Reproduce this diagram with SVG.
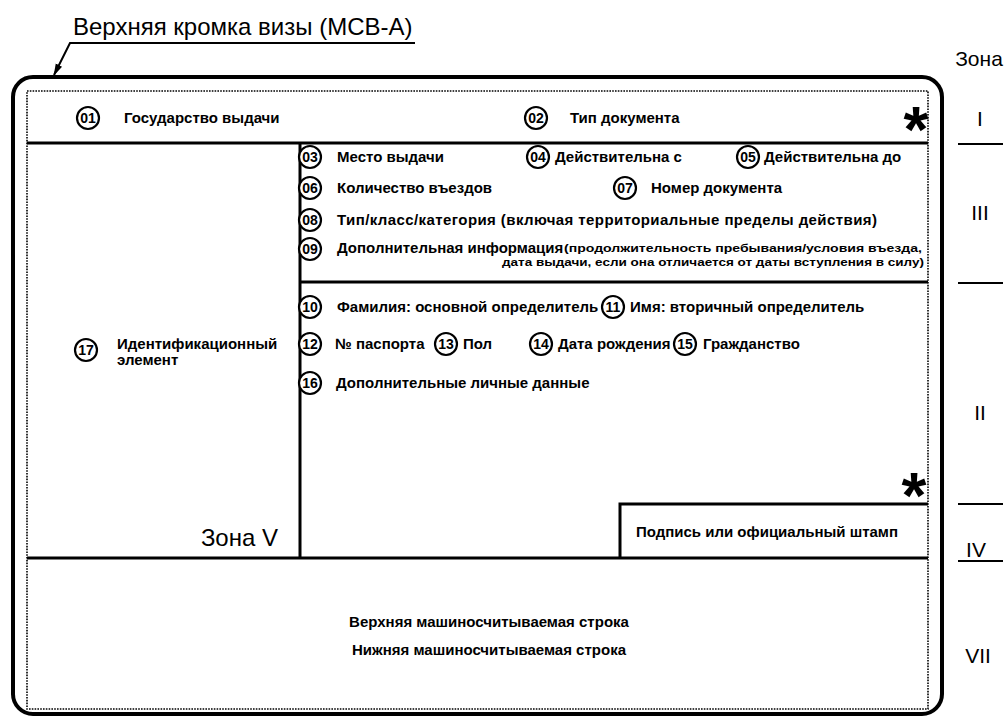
<svg xmlns="http://www.w3.org/2000/svg" width="1008" height="721" viewBox="0 0 1008 721">
<style>
.t{font-family:"Liberation Sans",Arial,sans-serif;font-weight:bold;font-size:15px;fill:#000}
.s{font-family:"Liberation Sans",Arial,sans-serif;font-weight:bold;font-size:11px;fill:#000}
.n{font-family:"Liberation Sans",Arial,sans-serif;font-weight:bold;font-size:14px;fill:#000;text-anchor:middle}
.big{font-family:"Liberation Sans",Arial,sans-serif;font-size:24px;fill:#000}
.z{font-family:"Liberation Sans",Arial,sans-serif;font-size:21px;fill:#000;text-anchor:middle}
.c{fill:#fff;stroke:#000;stroke-width:2.2}
.thick{fill:none;stroke:#000;stroke-width:3}
.thin{fill:none;stroke:#000;stroke-width:2}
.dot{fill:none;stroke:#000;stroke-width:1.6;stroke-dasharray:1.6 1.2}
.star{font-family:"Liberation Sans",Arial,sans-serif;font-weight:bold;font-size:64px;fill:#000;text-anchor:middle}
</style>
<defs>
<marker id="ah" markerWidth="12" markerHeight="10" refX="11" refY="5" orient="auto" markerUnits="userSpaceOnUse">
<path d="M0,1.5 L12,5 L0,8.5 Z" fill="#000"/>
</marker>
</defs>

<g id="title">
<text class="big" x="73" y="35">Верхняя кромка визы (МСВ-А)</text>
</g>
<g id="zone-head"><text class="z" x="979" y="66">Зона</text></g>

<g id="frame">
<rect x="13" y="77" width="929" height="637" rx="20" ry="20" fill="none" stroke="#000" stroke-width="4"/>
<rect x="27" y="91" width="901" height="618" class="dot"/>
</g>

<g id="connectors">
<polyline points="415,43 70,43 54,75" fill="none" stroke="#000" stroke-width="2" marker-end="url(#ah)"/>
<line x1="27" y1="143" x2="928" y2="143" class="thick"/>
<line x1="300" y1="143" x2="300" y2="558" class="thick"/>
<line x1="300" y1="282" x2="928" y2="282" class="thick"/>
<line x1="27" y1="558" x2="928" y2="558" class="thick"/>
<line x1="958" y1="144" x2="1003" y2="144" class="thin"/>
<line x1="958" y1="283" x2="1003" y2="283" class="thin"/>
<line x1="958" y1="504" x2="1003" y2="504" class="thin"/>
<line x1="958" y1="561" x2="1003" y2="561" class="thin"/>
</g>

<g id="zones">
<text class="z" x="980" y="126">I</text>
<text class="z" x="980" y="220">III</text>
<text class="z" x="980" y="420">II</text>
<text class="z" x="976" y="557">IV</text>
<text class="z" x="978" y="663">VII</text>
</g>

<g id="n01"><circle class="c" cx="88" cy="118" r="11"/><text class="n" x="88" y="123">01</text><text class="t" x="124" y="123">Государство выдачи</text></g>
<g id="n02"><circle class="c" cx="536" cy="118" r="11"/><text class="n" x="536" y="123">02</text><text class="t" x="570" y="123">Тип документа</text></g>
<g id="star1"><text class="star" x="916" y="152">*</text></g>

<g id="n03"><circle class="c" cx="310" cy="157" r="11"/><text class="n" x="310" y="162">03</text><text class="t" x="337" y="162">Место выдачи</text></g>
<g id="n04"><circle class="c" cx="538" cy="157" r="11"/><text class="n" x="538" y="162">04</text><text class="t" x="555" y="162">Действительна с</text></g>
<g id="n05"><circle class="c" cx="748" cy="157" r="11"/><text class="n" x="748" y="162">05</text><text class="t" x="764" y="162">Действительна до</text></g>
<g id="n06"><circle class="c" cx="310" cy="188" r="11"/><text class="n" x="310" y="193">06</text><text class="t" x="337" y="193">Количество въездов</text></g>
<g id="n07"><circle class="c" cx="625" cy="188" r="11"/><text class="n" x="625" y="193">07</text><text class="t" x="651" y="193">Номер документа</text></g>
<g id="n08"><circle class="c" cx="310" cy="220" r="11"/><text class="n" x="310" y="225">08</text><text class="t" x="337" y="225" textLength="540">Тип/класс/категория (включая территориальные пределы действия)</text></g>
<g id="n09"><circle class="c" cx="310" cy="249" r="11"/><text class="n" x="310" y="254">09</text><text class="t" x="337" y="253">Дополнительная информация</text><text class="s"><tspan x="564" y="252" textLength="358" lengthAdjust="spacingAndGlyphs">(продолжительность пребывания/условия въезда,</tspan><tspan x="502" y="266" textLength="422" lengthAdjust="spacingAndGlyphs">дата выдачи, если она отличается от даты вступления в силу)</tspan></text></g>

<g id="n10"><circle class="c" cx="310" cy="307" r="11"/><text class="n" x="310" y="312">10</text><text class="t" x="337" y="312">Фамилия: основной определитель</text></g>
<g id="n11"><circle class="c" cx="613" cy="307" r="11"/><text class="n" x="613" y="312">11</text><text class="t" x="630" y="312">Имя: вторичный определитель</text></g>
<g id="n12"><circle class="c" cx="310" cy="344" r="11"/><text class="n" x="310" y="349">12</text><text class="t" x="335" y="349">№ паспорта</text></g>
<g id="n13"><circle class="c" cx="446" cy="344" r="11"/><text class="n" x="446" y="349">13</text><text class="t" x="463" y="349">Пол</text></g>
<g id="n14"><circle class="c" cx="541" cy="344" r="11"/><text class="n" x="541" y="349">14</text><text class="t" x="558" y="349">Дата рождения</text></g>
<g id="n15"><circle class="c" cx="685" cy="344" r="11"/><text class="n" x="685" y="349">15</text><text class="t" x="703" y="349">Гражданство</text></g>
<g id="n16"><circle class="c" cx="310" cy="383" r="11"/><text class="n" x="310" y="388">16</text><text class="t" x="336" y="388">Дополнительные личные данные</text></g>
<g id="star2"><text class="star" x="914" y="518">*</text></g>

<g id="n17"><circle class="c" cx="86" cy="350" r="11"/><text class="n" x="86" y="355">17</text><text class="t" x="117" y="349">Идентификационный</text><text class="t" x="117" y="365">элемент</text></g>
<g id="zoneV"><text class="big" x="278" y="546" text-anchor="end">Зона V</text></g>

<g id="sign">
<path d="M928,504 L620,504 L620,558" class="thick"/>
<text class="t" x="767" y="537" text-anchor="middle">Подпись или официальный штамп</text>
</g>

<g id="mrz">
<text class="t" x="489" y="627" text-anchor="middle">Верхняя машиносчитываемая строка</text>
<text class="t" x="489" y="655" text-anchor="middle">Нижняя машиносчитываемая строка</text>
</g>
</svg>
